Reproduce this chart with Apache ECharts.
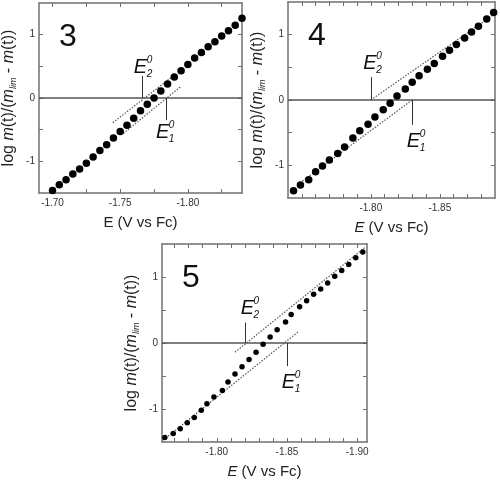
<!DOCTYPE html>
<html>
<head>
<meta charset="utf-8">
<script src="https://cdn.jsdelivr.net/npm/echarts@6/dist/echarts.min.js"></script>
<style>
html,body{margin:0;padding:0;background:#fff;}
#main{width:500px;height:483px;}
</style>
</head>
<body>
<div id="main"></div>
<script>
var font = "'Liberation Sans', Arial, sans-serif";

// panel 3
var e3 = [-1.700,-1.705,-1.710,-1.715,-1.720,-1.725,-1.730,-1.735,-1.740,-1.745,-1.750,-1.755,-1.760,-1.765,-1.770,
          -1.775,-1.780,-1.785,-1.790,-1.795,-1.800,-1.805,-1.810,-1.815,-1.820,-1.825,-1.830,-1.835,-1.840];
var y3 = [-1.46,-1.37,-1.29,-1.20,-1.12,-1.03,-0.93,-0.83,-0.74,-0.63,-0.53,-0.43,-0.32,-0.20,-0.10,
          0.00,0.11,0.22,0.33,0.43,0.53,0.63,0.72,0.81,0.89,0.98,1.06,1.15,1.26];
var fitUp3 = [[-1.7445,-0.39],[-1.7893,0.35]];
var fitLow3 = [[-1.7523,-0.56],[-1.7947,0.18]];
var e0_3 = [-1.7664,-1.7839];          // E2^0, E1^0
var xTicks3 = [-1.700,-1.725,-1.750,-1.775,-1.800,-1.825];
var xLabels3 = [-1.70,-1.75,-1.80];

// panel 4
var e4 = [-1.744,-1.749,-1.755,-1.760,-1.765,-1.770,-1.776,-1.781,-1.787,-1.792,-1.798,-1.803,-1.809,-1.814,
          -1.819,-1.825,-1.830,-1.835,-1.841,-1.846,-1.852,-1.857,-1.862,-1.868,-1.873,-1.878,-1.884,-1.889];
var y4 = [-1.39,-1.30,-1.22,-1.10,-1.01,-0.92,-0.82,-0.72,-0.58,-0.47,-0.37,-0.26,-0.15,-0.05,
          0.06,0.17,0.27,0.37,0.47,0.56,0.67,0.76,0.85,0.95,1.04,1.13,1.24,1.34];
var fitUp4 = [[-1.800,0],[-1.8886,1.30]];
var fitLow4 = [[-1.7487,-1.27],[-1.830,0]];
var e0_4 = [-1.800,-1.830];
var xTicks4 = [-1.75,-1.76,-1.77,-1.78,-1.79,-1.80,-1.81,-1.82,-1.83,-1.84,-1.85,-1.86,-1.87,-1.88];
var xLabels4 = [-1.80,-1.85];

// panel 5
var e5 = [-1.763,-1.769,-1.774,-1.779,-1.784,-1.789,-1.793,-1.798,-1.804,-1.808,-1.813,-1.818,-1.823,-1.828,-1.833,
          -1.838,-1.843,-1.849,-1.853,-1.859,-1.864,-1.869,-1.874,-1.879,-1.884,-1.889,-1.894,-1.899,-1.904];
var y5 = [-1.43,-1.37,-1.30,-1.21,-1.13,-1.02,-0.92,-0.82,-0.72,-0.59,-0.47,-0.36,-0.25,-0.14,-0.02,
          0.09,0.20,0.32,0.43,0.55,0.64,0.74,0.82,0.91,1.01,1.10,1.19,1.29,1.38];
var fitUp5 = [[-1.813,-0.14],[-1.9056,1.45]];
var fitLow5 = [[-1.7619,-1.47],[-1.8581,0.17]];
var e0_5 = [-1.8201,-1.8502];
var xTicks5 = [-1.77,-1.78,-1.79,-1.80,-1.81,-1.82,-1.83,-1.84,-1.85,-1.86,-1.87,-1.88,-1.89,-1.90];
var xLabels5 = [-1.80,-1.85,-1.90];

var yTicks = [-1,-0.5,0,0.5,1];
var yLabels = [-1,0,1];

var panels = [
  {num:'3', grid:{left:39,top:3,width:203,height:190}, xmin:-1.84, xmax:-1.69, e:e3, y:y3, up:fitUp3, low:fitLow3,
   e0:e0_3, arrUp:0.35, arrDown:-0.35, lab:[[-1.7650,0.48],[-1.7813,-0.54]], xt:xTicks3, xl:xLabels3, dot:7.5, italicE:false},
  {num:'4', grid:{left:288,top:2,width:207,height:196}, xmin:-1.89, xmax:-1.74, e:e4, y:y4, up:fitUp4, low:fitLow4,
   e0:e0_4, arrUp:0.35, arrDown:-0.38, lab:[[-1.7994,0.56],[-1.8309,-0.63]], xt:xTicks4, xl:xLabels4, dot:7.5, italicE:true},
  {num:'5', grid:{left:162,top:244,width:205,height:198}, xmin:-1.907, xmax:-1.761, e:e5, y:y5, up:fitUp5, low:fitLow5,
   e0:e0_5, arrUp:0.31, arrDown:-0.35, lab:[[-1.8218,0.52],[-1.8511,-0.59]], xt:xTicks5, xl:xLabels5, dot:5.5, italicE:true}
];

var frame = '#707070';
var rich = {
  a: {fontSize:16, fontFamily:font, color:'#222', lineHeight:18},
  i: {fontSize:16, fontFamily:font, fontStyle:'italic', color:'#222', lineHeight:18},
  s: {fontSize:9, fontFamily:font, fontStyle:'italic', color:'#222', lineHeight:9, verticalAlign:'bottom'}
};

var option = {animation:false, grid:[], xAxis:[], yAxis:[], series:[]};
var scatterIdx = [];

panels.forEach(function(p, i){
  option.grid.push(p.grid);
  var xline = {show:true, onZero:false, lineStyle:{color:frame, width:1.5}};
  var tick = {show:true, inside:true, length:4, lineStyle:{color:frame, width:1}};
  option.xAxis.push({
    type:'value', gridIndex:i, position:'bottom', inverse:true, min:p.xmin, max:p.xmax,
    axisLine:xline, splitLine:{show:false},
    axisTick:Object.assign({customValues:p.xt}, tick),
    axisLabel:{customValues:p.xl, fontSize:10, fontFamily:font, color:'#333', margin:5,
      formatter:function(v){return v.toFixed(2);}},
    name: p.italicE ? '{i|E}{a| (V vs Fc)}' : 'E (V vs Fc)',
    nameLocation:'middle', nameGap:22,
    nameTextStyle:{fontSize:15, fontFamily:font, color:'#222',
      rich:{a:{fontSize:15, fontFamily:font, color:'#222'}, i:{fontSize:15, fontFamily:font, fontStyle:'italic', color:'#222'}}}
  });
  option.xAxis.push({
    type:'value', gridIndex:i, position:'top', inverse:true, min:p.xmin, max:p.xmax,
    axisLine:xline, splitLine:{show:false},
    axisTick:Object.assign({customValues:p.xt}, tick),
    axisLabel:{show:false}
  });
  option.yAxis.push({
    type:'value', gridIndex:i, position:'left', min:-1.5, max:1.5,
    axisLine:xline, splitLine:{show:false},
    axisTick:Object.assign({customValues:yTicks}, tick),
    axisLabel:{customValues:yLabels, fontSize:10, fontFamily:font, color:'#333', margin:4},
    name:'{a|log }{i|m}{a|(t)/(}{i|m}{s|lim}{a| - }{i|m}{a|(t))}',
    nameLocation:'middle', nameGap:21, nameRotate:90,
    nameTextStyle:{rich:rich}
  });
  option.yAxis.push({
    type:'value', gridIndex:i, position:'right', min:-1.5, max:1.5,
    axisLine:xline, splitLine:{show:false},
    axisTick:Object.assign({customValues:yTicks}, tick),
    axisLabel:{show:false}
  });

  var xa = 2*i, ya = 2*i;
  // dotted fit lines
  [p.up, p.low].forEach(function(f){
    option.series.push({
      type:'line', xAxisIndex:xa, yAxisIndex:ya, data:f, symbol:'none', silent:true,
      lineStyle:{color:'#555', width:1.2, type:[1.5,1.5]}
    });
  });
  // zero line and arrows
  option.series.push({
    type:'line', xAxisIndex:xa, yAxisIndex:ya, data:[], silent:true,
    markLine:{
      silent:true, animation:false, symbol:['none','none'], label:{show:false},
      lineStyle:{color:'#555', width:1.5, type:'solid'},
      data:[{yAxis:0}]
    }
  });
  option.series.push({
    type:'line', xAxisIndex:xa, yAxisIndex:ya, data:[], silent:true,
    markLine:{
      silent:true, animation:false, symbol:['none','arrow'], symbolSize:[0,6], label:{show:false},
      lineStyle:{color:'#333', width:1, type:'solid'},
      data:[
        [{coord:[p.e0[0], p.arrUp]}, {coord:[p.e0[0], 0]}],
        [{coord:[p.e0[1], p.arrDown]}, {coord:[p.e0[1], 0]}]
      ]
    }
  });
  // data points
  scatterIdx.push(option.series.length);
  option.series.push({
    type:'scatter', xAxisIndex:xa, yAxisIndex:ya, symbolSize:p.dot, silent:true, z:5,
    itemStyle:{color:'#000', opacity:1},
    data:p.e.map(function(v, k){return [v, p.y[k]];})
  });
});

var chart = echarts.init(document.getElementById('main'));
chart.setOption(option);

// panel numbers and E0 labels
var graphics = [];
function txt(x, y, s, size, italic){
  return {type:'text', x:x, y:y, silent:true, z:100,
    style:{text:s, fill:'#111', fontSize:size, fontFamily:font, fontStyle:italic ? 'italic' : 'normal',
      textAlign:'center', align:'center', textVerticalAlign:'middle', verticalAlign:'middle'}};
}
panels.forEach(function(p, i){
  graphics.push(txt(p.grid.left + 29, p.grid.top + 34, p.num, 32, false));
  ['2','1'].forEach(function(sub, k){
    var pt = chart.convertToPixel({seriesIndex:scatterIdx[i]}, p.lab[k]);
    graphics.push(txt(pt[0], pt[1], 'E', 20, true));
    graphics.push(txt(pt[0] + 9, pt[1] - 7, '0', 10, true));
    graphics.push(txt(pt[0] + 9, pt[1] + 7, sub, 10, true));
  });
});
chart.setOption({graphic:graphics});
</script>
</body>
</html>
